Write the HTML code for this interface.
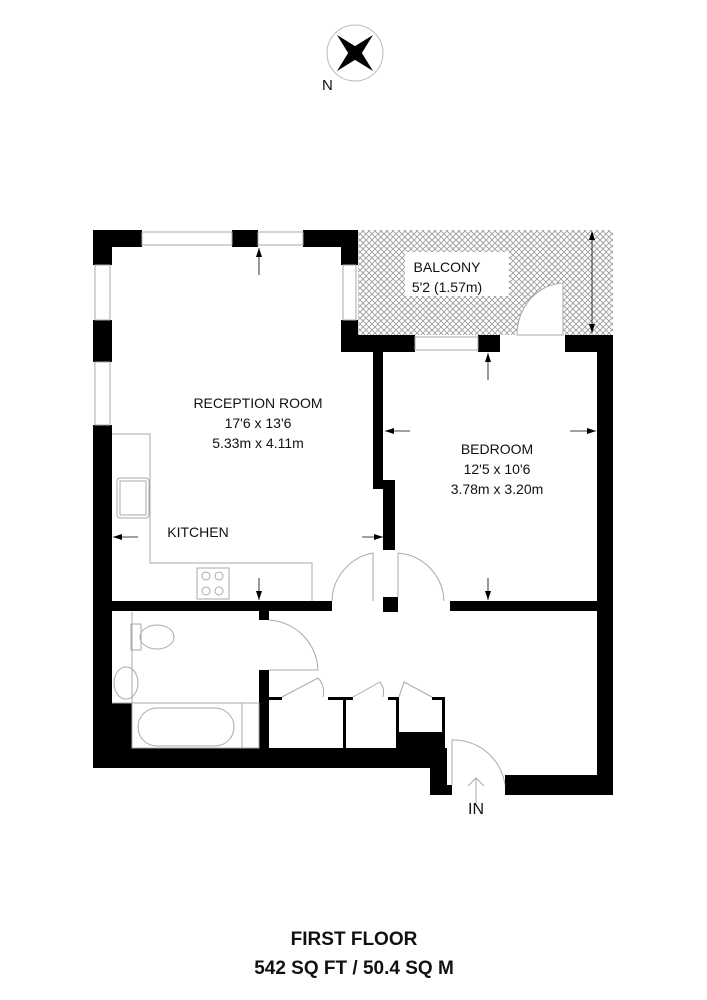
<!DOCTYPE html>
<html><head><meta charset="utf-8"><style>
html,body{margin:0;padding:0;background:#fff;}
svg{display:block}
text{font-family:"Liberation Sans",sans-serif;fill:#111}
</style></head><body>
<svg width="707" height="1000" viewBox="0 0 707 1000" xmlns="http://www.w3.org/2000/svg">
<defs>
<pattern id="hx" width="6" height="6" patternUnits="userSpaceOnUse">
<rect width="6" height="6" fill="#fff"/>
<path d="M0 0L6 6M6 0L0 6" stroke="#999" stroke-width="0.8"/>
</pattern>
</defs>
<!-- compass -->
<circle cx="355" cy="53" r="28" fill="none" stroke="#bbb" stroke-width="1"/>
<polygon points="337,35 358,48 355,53 350,56" fill="#000"/>
<polygon points="373,35 360,56 355,53 352,48" fill="#000"/>
<polygon points="373,71 352,58 355,53 360,50" fill="#000"/>
<polygon points="337,71 350,50 355,53 358,58" fill="#000"/>
<text x="322" y="90" font-size="15">N</text>

<!-- balcony -->
<rect x="358" y="230" width="255" height="105" fill="url(#hx)"/>
<rect x="405" y="252" width="104" height="44" fill="#fff"/>
<text x="447" y="272" font-size="14" text-anchor="middle">BALCONY</text>
<text x="447" y="292" font-size="14" text-anchor="middle">5'2 (1.57m)</text>
<path d="M517 335 A48 52 0 0 1 563 283 L563 335 Z" fill="#fff" stroke="#aaa"/>
<line x1="592" y1="232" x2="592" y2="333" stroke="#000" stroke-width="0.8"/>
<polygon points="589,240 592,231 595,240" fill="#000"/>
<polygon points="589,324 592,333 595,324" fill="#000"/>

<g fill="#000">
<!-- top wall -->
<rect x="93" y="230" width="49" height="17"/>
<rect x="93" y="230" width="19" height="35"/>
<rect x="232" y="230" width="26" height="17"/>
<rect x="303" y="230" width="55" height="17"/>
<rect x="341" y="230" width="17" height="35"/>
<!-- left wall -->
<rect x="93" y="320" width="19" height="42"/>
<rect x="93" y="425" width="19" height="343"/>
<!-- reception right / balcony bottom -->
<rect x="341" y="320" width="17" height="32"/>
<rect x="341" y="335" width="74" height="17"/>
<rect x="478" y="335" width="22" height="17"/>
<rect x="565" y="335" width="48" height="17"/>
<rect x="597" y="335" width="16" height="460"/>
<!-- partition -->
<rect x="373" y="352" width="10" height="137"/>
<rect x="383" y="480" width="12" height="70"/>
<rect x="383" y="597" width="15" height="15"/>
<!-- horizontal -->
<rect x="112" y="601" width="220" height="10"/>
<rect x="450" y="601" width="147" height="10"/>
<!-- bathroom wall -->
<rect x="259" y="611" width="10" height="9"/>
<rect x="259" y="670" width="10" height="80"/>
<rect x="112" y="703" width="20" height="45"/>
<!-- cupboards -->
<rect x="269" y="697" width="13" height="3"/>
<rect x="328" y="697" width="25" height="3"/>
<rect x="343" y="697" width="3" height="53"/>
<rect x="388" y="697" width="11" height="3"/>
<rect x="396" y="697" width="3" height="40"/>
<rect x="432" y="697" width="13" height="3"/>
<rect x="442" y="697" width="3" height="40"/>
<rect x="396" y="732" width="49" height="18"/>
<!-- bottom -->
<rect x="93" y="748" width="354" height="20"/>
<rect x="430" y="748" width="17" height="47"/>
<rect x="447" y="785" width="5" height="10"/>
<rect x="505" y="775" width="108" height="20"/>
</g>
<!-- windows lines -->
<g stroke="#aaa" fill="none" stroke-width="1">
<rect x="142" y="232" width="90" height="13"/>
<rect x="258" y="232" width="45" height="13"/>
<rect x="95" y="265" width="15" height="55"/>
<rect x="95" y="362" width="15" height="63"/>
<rect x="343" y="265" width="13" height="55"/>
<rect x="415" y="337" width="63" height="13"/>
<!-- kitchen counter -->
<polyline points="112,434 150,434 150,563 312,563 312,601"/>
<rect x="117" y="478" width="32" height="40" rx="3"/>
<rect x="120" y="481" width="26" height="34"/>
<rect x="197" y="568" width="32" height="31"/>
<circle cx="206" cy="576" r="4"/><circle cx="219" cy="576" r="4"/>
<circle cx="206" cy="591" r="4"/><circle cx="219" cy="591" r="4"/>
<!-- doors -->
<path d="M332 601 A50 50 0 0 1 373 553 L373 601"/>
<path d="M398 553 A50 50 0 0 1 444 601"/>
<line x1="398" y1="553" x2="398" y2="597"/>
<path d="M269 620 A52 52 0 0 1 318 670 L269 670"/>
<path d="M282 697 L318 678 A20 20 0 0 1 323 697"/>
<path d="M353 697 L380 682 A18 18 0 0 1 383 697"/>
<path d="M399 697 L404 682 L432 697"/>
<path d="M452 785 L452 740 A52 52 0 0 1 505 785"/>
<!-- bathroom fixtures -->
<rect x="131" y="624" width="10" height="26"/>
<ellipse cx="157" cy="637" rx="17" ry="12"/>
<polyline points="112,703 132,703 132,612"/>
<ellipse cx="126" cy="683" rx="12" ry="16"/>
<rect x="132" y="703" width="127" height="45"/>
<rect x="138" y="708" width="96" height="38" rx="19"/>
<line x1="242" y1="703" x2="242" y2="748"/>
<!-- IN arrow -->
<path d="M476 805 L476 778 M468 786 L476 778 L484 786"/>
</g>
<!-- dimension arrows -->
<g stroke="#000" stroke-width="0.8">
<line x1="259" y1="248" x2="259" y2="275"/>
<line x1="488" y1="353" x2="488" y2="380"/>
<line x1="385" y1="431" x2="410" y2="431"/>
<line x1="570" y1="431" x2="596" y2="431"/>
<line x1="113" y1="537" x2="138" y2="537"/>
<line x1="362" y1="537" x2="383" y2="537"/>
<line x1="259" y1="578" x2="259" y2="600"/>
<line x1="488" y1="578" x2="488" y2="600"/>
</g>
<g fill="#000">
<polygon points="256,257 259,248 262,257"/>
<polygon points="485,362 488,353 491,362"/>
<polygon points="385,431 394,428 394,434"/>
<polygon points="596,431 587,428 587,434"/>
<polygon points="113,537 122,534 122,540"/>
<polygon points="383,537 374,534 374,540"/>
<polygon points="256,591 259,600 262,591"/>
<polygon points="485,591 488,600 491,591"/>
</g>
<!-- labels -->
<g font-size="14" text-anchor="middle">
<text x="258" y="408">RECEPTION ROOM</text>
<text x="258" y="428">17'6 x 13'6</text>
<text x="258" y="448">5.33m x 4.11m</text>
<text x="497" y="454">BEDROOM</text>
<text x="497" y="474">12'5 x 10'6</text>
<text x="497" y="494">3.78m x 3.20m</text>
<text x="198" y="537">KITCHEN</text>
<text x="476" y="814" font-size="16">IN</text>
</g>
<text x="354" y="945" font-size="19" font-weight="bold" text-anchor="middle">FIRST FLOOR</text>
<text x="354" y="974" font-size="19" font-weight="bold" text-anchor="middle">542 SQ FT / 50.4 SQ M</text>
</svg>
</body></html>
